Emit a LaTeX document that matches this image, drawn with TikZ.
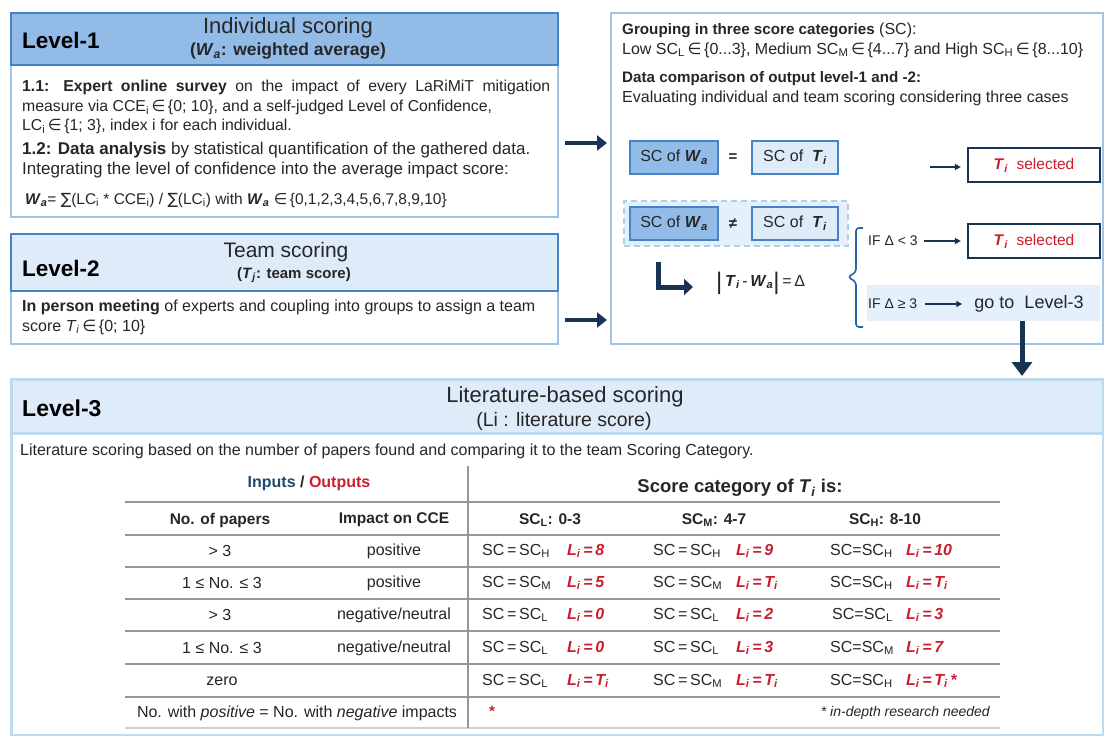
\documentclass[tikz,border=0pt]{standalone}
\usepackage{fontspec}
\setmainfont{Liberation Sans}
\newfontfamily\symfont{DejaVu Sans}
\usetikzlibrary{arrows.meta,calc}
\definecolor{txt}{RGB}{38,38,38}
\definecolor{hdrA}{RGB}{146,187,231}
\definecolor{hdrAb}{RGB}{70,130,198}
\definecolor{lightfill}{RGB}{222,235,248}
\definecolor{bodyb}{RGB}{160,196,230}
\definecolor{l3b}{RGB}{190,218,238}
\definecolor{navy}{RGB}{24,52,82}
\definecolor{redt}{RGB}{205,30,45}
\definecolor{gridc}{RGB}{150,150,150}
\definecolor{bandfill}{RGB}{228,240,251}
\definecolor{dashb}{RGB}{175,208,236}
\definecolor{bracec}{RGB}{40,100,170}
\definecolor{inpc}{RGB}{30,75,112}
\newcommand\myWa{\textbf{\textit{W}}\textsubscript{\textbf{\textit{a}}}}
\newcommand\myTi{\textbf{\textit{T}}\textsubscript{\textbf{\textit{i}}}}
\newcommand\myRL[1]{\textcolor{redt}{\textbf{\textit{L\textsubscript{i}\,=\,#1}}}}
\newcommand\mySC[1]{SC\,=\,SC\textsubscript{#1}}
\newcommand\mySCc[1]{SC=SC\textsubscript{#1}}
\newcommand\myin{{\symfont ∈}}
\begin{document}
\begin{tikzpicture}[x=1pt,y=-1pt,
  every node/.style={inner sep=0pt, text=txt},
  body/.style={font=\fontsize{15.8}{18}\selectfont, anchor=west},
  bodyb/.style={font=\fontsize{17}{20}\selectfont, anchor=west},
  rbody/.style={font=\fontsize{16}{19}\selectfont, anchor=west},
  rbold/.style={font=\fontsize{15.2}{19}\selectfont, anchor=west},
  lvl/.style={font=\fontsize{22.5}{26}\selectfont\bfseries, anchor=west, text=black},
  ttl/.style={font=\fontsize{22}{26}\selectfont},
  sub/.style={font=\fontsize{17.5}{20}\selectfont\bfseries},
  bigarrow/.style={draw=navy, line width=4pt, -{Triangle[length=10pt,width=15pt]}},
  thinarrow/.style={draw=navy, line width=1.6pt, -{Triangle[length=6pt,width=6pt]}},
  scdark/.style={draw=hdrAb, fill=hdrA, line width=2pt, minimum width=88pt, minimum height=33pt, font=\fontsize{16}{19}\selectfont},
  sclight/.style={draw=hdrAb, fill=lightfill, line width=2pt, minimum width=86pt, minimum height=33pt, font=\fontsize{16}{19}\selectfont},
  selbox/.style={draw=navy, fill=white, line width=2.2pt, minimum width=132pt, minimum height=34pt, text=redt, font=\fontsize{15.5}{18}\selectfont},
  tcell/.style={font=\fontsize{16}{19}\selectfont},
  thead/.style={font=\fontsize{15.5}{18}\selectfont\bfseries},
  rcell/.style={font=\fontsize{16}{19}\selectfont, anchor=west},
  rule/.style={draw=gridc, line width=1.6pt},
]
\useasboundingbox (0,0) rectangle (1104,736);
\fill[white] (0,0) rectangle (1104,736);

% ---------------- Level-1
\node[draw=bodyb, line width=2pt, minimum width=547pt, minimum height=204pt, anchor=north west] (L1) at (10,12) {};
\node[draw=hdrAb, fill=hdrA, line width=2.4pt, minimum width=547pt, minimum height=52pt, anchor=north west] (H1) at (10,12) {};
\node[lvl] (L1name) at (22,40) {Level-1};
\node[ttl] (L1title) at (288,28) {Individual scoring};
\node[sub] (L1sub) at (288,51) {(\textit{W}\textsubscript{\textit{a}}: weighted average)};
\node[body] (L1l1) at (22,87) {\makebox[528pt][s]{\textbf{1.1: Expert online survey} on the impact of every LaRiMiT mitigation}};
\node[body] (L1l2) at (22,107) {measure via CCE\textsubscript{i}\,\myin\,\{0; 10\}, and a self-judged Level of Confidence,};
\node[body] (L1l3) at (22,126) {LC\textsubscript{i}\,\myin\,\{1; 3\}, index i for each individual.};
\node[bodyb] (L1l4) at (22,150) {\textbf{1.2: Data analysis} by statistical quantification of the gathered data.};
\node[bodyb] (L1l5) at (22,170) {Integrating the level of confidence into the average impact score:};
\node[body, font=\fontsize{15.5}{18}\selectfont] (L1l6) at (25,200) {\myWa= {\symfont ∑}(LC\textsubscript{i} * CCE\textsubscript{i}) / {\symfont ∑}(LC\textsubscript{i}) with \myWa\ \myin\,\{0,1,2,3,4,5,6,7,8,9,10\}};

% ---------------- Level-2
\node[draw=bodyb, line width=2pt, minimum width=547pt, minimum height=110pt, anchor=north west] (L2) at (10,233) {};
\node[draw=hdrAb, fill=lightfill, line width=2.4pt, minimum width=547pt, minimum height=57pt, anchor=north west] (H2) at (10,233) {};
\node[lvl] (L2name) at (22,268) {Level-2};
\node[ttl, font=\fontsize{21}{24}\selectfont] (L2title) at (286,252) {Team scoring};
\node[sub, font=\fontsize{15}{18}\selectfont\bfseries] (L2sub) at (294,275) {(\textit{T}\textsubscript{\textit{j}}: team score)};
\node[rbody] (L2l1) at (22,307) {\textbf{In person meeting} of experts and coupling into groups to assign a team};
\node[rbody] (L2l2) at (22,327) {score \textit{T}\textsubscript{\textit{i}}\,\myin\,\{0; 10\}};

% ---------------- Right box
\node[draw=bodyb, line width=2pt, minimum width=492pt, minimum height=331pt, anchor=north west] (R) at (610,12) {};
\node[rbody] (Rl1) at (622,30) {{\fontsize{15.2}{19}\selectfont\textbf{Grouping in three score categories}} (SC):};
\node[rbody] (Rl2) at (622,50) {Low SC\textsubscript{L}\,\myin\,\{0...3\}, Medium SC\textsubscript{M}\,\myin\,\{4...7\} and High SC\textsubscript{H}\,\myin\,\{8...10\}};
\node[rbold] (Rl3) at (622,79) {\textbf{Data comparison of output level-1 and -2:}};
\node[rbody] (Rl4) at (622,98) {Evaluating individual and team scoring considering three cases};

\node[draw=dashb, fill=bandfill, dashed, dash pattern=on 6pt off 4pt, line width=1.5pt, minimum width=224pt, minimum height=45pt, anchor=north west] (grp) at (623,200) {};

\node[scdark] (w1) at (674,157.5) {SC of \myWa};
\node[font=\fontsize{15}{17}\selectfont\bfseries] (eq) at (733,158) {=};
\node[sclight] (t1) at (795,157.5) {SC of \ \myTi};
\node[scdark] (w2) at (674,223.5) {SC of \myWa};
\node[font=\fontsize{15}{17}\selectfont\bfseries] (neq) at (733,224) {≠};
\node[sclight] (t2) at (795,223.5) {SC of \ \myTi};

\node[selbox] (sel1) at (1034,165) {\myTi\ \ selected};
\node[selbox] (sel2) at (1034,241) {\myTi\ \ selected};
\coordinate (s1) at (930,167);
\draw[thinarrow] (s1) -- ($(sel1.west)+(-6,2)$);

\node[fill=bandfill, minimum width=233pt, minimum height=36pt, anchor=north west] (band) at (867,285) {};
\node[rbody, font=\fontsize{14}{17}\selectfont] (ifA) at (868,241) {IF Δ < 3};
\node[rbody, font=\fontsize{14}{17}\selectfont] (ifB) at (868,304) {IF Δ ≥ 3};
\node[font=\fontsize{18}{21}\selectfont] (gotxt) at (1029,304) {go to \ Level-3};
\draw[thinarrow] ($(ifA.east)+(6,0)$) -- ($(sel2.west)+(-6,0)$);
\draw[thinarrow] ($(ifB.east)+(8,0)$) -- ($(gotxt.west)+(-12,0)$);

\draw[bracec, line width=1.6pt, rounded corners=3pt] (863,228) -- (856,228) -- (856,272) -- (848,277) -- (856,282) -- (856,327) -- (863,327);

\draw[navy, line width=5pt, -{Triangle[length=9pt,width=16pt]}] (658,262) -- (658,287) -- (693,287);
\node[font=\fontsize{16}{19}\selectfont, anchor=west] (delta) at (716,283) {\raisebox{-3pt}{\fontsize{24}{24}\selectfont|}\,\myTi\,-\,\myWa\raisebox{-3pt}{\fontsize{24}{24}\selectfont|}\,=\,Δ};

% arrows between boxes
\coordinate (a1) at (0,143);
\coordinate (a2) at (0,320);
\draw[bigarrow] ($(L1.east|-a1)+(6,0)$) -- ($(R.west|-a1)+(-3,0)$);
\draw[bigarrow] ($(L2.east|-a2)+(6,0)$) -- ($(R.west|-a2)+(-3,0)$);

% ---------------- Level-3
\node[draw=l3b, line width=3pt, minimum width=1092pt, minimum height=356pt, anchor=north west] (L3) at (10,378) {};
\node[draw=l3b, fill=lightfill, line width=3pt, minimum width=1092pt, minimum height=54pt, anchor=north west] (H3) at (10,378) {};
\node[lvl, font=\fontsize{23}{26}\selectfont\bfseries] (L3name) at (22,408) {Level-3};
\node[ttl] (L3title) at (565,397) {Literature-based scoring};
\node[font=\fontsize{19.5}{22}\selectfont] (L3sub) at (564,421) {(Li : literature score)};
\node[rbody] (L3l1) at (20,451) {Literature scoring based on the number of papers found and comparing it to the team Scoring Category.};

\coordinate (a3) at (1022,0);
\draw[draw=navy, line width=5pt, -{Triangle[length=14pt,width=20pt]}] (a3|-band.south) -- ($(a3|-L3.north)+(0,-2)$);

% table rules
\draw[rule, line width=2.2pt] (125,502) -- (1000,502);
\foreach \yy in {535,599,664} \draw[rule] (125,\yy) -- (1000,\yy);
\foreach \yy in {567,631,697} \draw[rule, line width=2.2pt] (125,\yy) -- (1000,\yy);
\draw[rule, draw=gridc!45] (125,728) -- (1000,728);
\draw[rule, line width=1.2pt] (468,466) -- (468,728);

% table header
\node[font=\fontsize{16}{19}\selectfont\bfseries] (io) at (309,483) {\textcolor{inpc}{Inputs} / \textcolor{redt}{Outputs}};
\node[font=\fontsize{18.5}{21}\selectfont\bfseries] (scat) at (740,488) {Score category of \textit{T}\textsubscript{\textit{i}} is:};
\node[thead] (h1) at (220,520) {No. of papers};
\node[thead] (h2) at (394,520) {Impact on CCE};
\node[thead] (h3) at (550,520) {SC\textsubscript{L}: 0-3};
\node[thead] (h4) at (714,520) {SC\textsubscript{M}: 4-7};
\node[thead] (h5) at (885,520) {SC\textsubscript{H}: 8-10};

% row 1
\node[tcell] (r1a) at (220,551) {> 3};
\node[tcell] (r1b) at (394,551) {positive};
\node[rcell] (r1c) at (482,551) {\mySC{H}};
\node[rcell] (r1cl) at (567,551) {\myRL{8}};
\node[rcell] (r1d) at (653,551) {\mySC{H}};
\node[rcell] (r1dl) at (736,551) {\myRL{9}};
\node[rcell] (r1e) at (830,551) {\mySCc{H}};
\node[rcell] (r1el) at (906,551) {\myRL{10}};
% row 2
\node[tcell] (r2a) at (222,583) {1 ≤ No. ≤ 3};
\node[tcell] (r2b) at (394,583) {positive};
\node[rcell] (r2c) at (482,583) {\mySC{M}};
\node[rcell] (r2cl) at (567,583) {\myRL{5}};
\node[rcell] (r2d) at (653,583) {\mySC{M}};
\node[rcell] (r2dl) at (736,583) {\myRL{\textit{T}\textsubscript{i}}};
\node[rcell] (r2e) at (830,583) {\mySCc{H}};
\node[rcell] (r2el) at (906,583) {\myRL{\textit{T}\textsubscript{i}}};
% row 3
\node[tcell] (r3a) at (220,615) {> 3};
\node[tcell] (r3b) at (394,615) {negative/neutral};
\node[rcell] (r3c) at (482,615) {\mySC{L}};
\node[rcell] (r3cl) at (567,615) {\myRL{0}};
\node[rcell] (r3d) at (653,615) {\mySC{L}};
\node[rcell] (r3dl) at (736,615) {\myRL{2}};
\node[rcell] (r3e) at (832,615) {\mySCc{L}};
\node[rcell] (r3el) at (906,615) {\myRL{3}};
% row 4
\node[tcell] (r4a) at (222,648) {1 ≤ No. ≤ 3};
\node[tcell] (r4b) at (394,648) {negative/neutral};
\node[rcell] (r4c) at (482,648) {\mySC{L}};
\node[rcell] (r4cl) at (567,648) {\myRL{0}};
\node[rcell] (r4d) at (653,648) {\mySC{L}};
\node[rcell] (r4dl) at (736,648) {\myRL{3}};
\node[rcell] (r4e) at (830,648) {\mySCc{M}};
\node[rcell] (r4el) at (906,648) {\myRL{7}};
% row 5
\node[tcell] (r5a) at (222,681) {zero};
\node[rcell] (r5c) at (482,681) {\mySC{L}};
\node[rcell] (r5cl) at (567,681) {\myRL{\textit{T}\textsubscript{i}}};
\node[rcell] (r5d) at (653,681) {\mySC{M}};
\node[rcell] (r5dl) at (736,681) {\myRL{\textit{T}\textsubscript{i}}};
\node[rcell] (r5e) at (830,681) {\mySCc{H}};
\node[rcell] (r5el) at (906,681) {\myRL{\textit{T}\textsubscript{i}\,*}};
% row 6
\node[tcell] (r6a) at (297,713) {No. with \textit{positive} = No. with \textit{negative} impacts};
\node[font=\fontsize{15}{17}\selectfont\bfseries, text=redt] (r6star) at (492,711) {*};
\node[font=\fontsize{14}{16}\selectfont\itshape, anchor=east] (r6note) at (990,713) {* in-depth research needed};
\end{tikzpicture}
\end{document}
